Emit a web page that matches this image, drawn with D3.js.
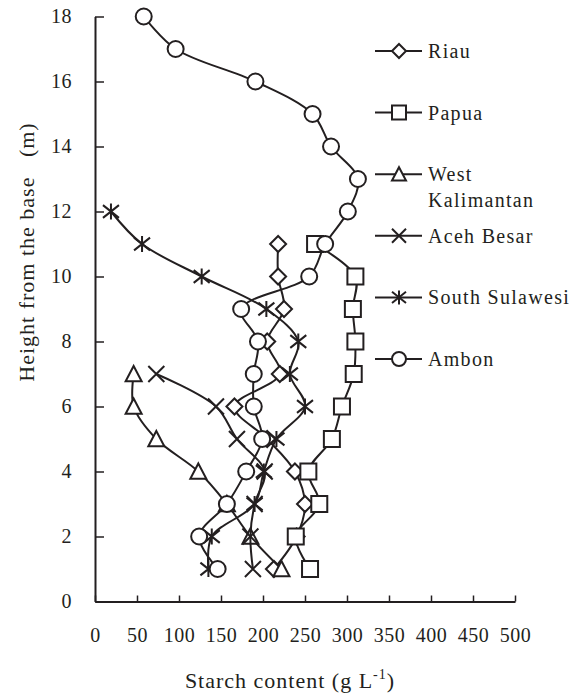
<!DOCTYPE html>
<html>
<head>
<meta charset="utf-8">
<script src="https://cdn.jsdelivr.net/npm/d3@7/dist/d3.min.js"></script>
<style>
  body { margin: 0; background: #fff; }
  text { font-family: "Liberation Serif", "Times New Roman", serif; fill: #231f20; }
</style>
</head>
<body>
<svg id="chart" width="582" height="698"></svg>
<script>
// heights in m, starch in g/L (index 0 = 1 m)
var heights = [1,2,3,4,5,6,7,8,9,10,11,12,13,14,15,16,17,18];
var riau      = [213, 240, 250, 238, 205, 166, 220, 205, 225, 218, 218];
var papua     = [256, 239, 267, 254, 282, 294, 308, 310, 307, 310, 262];
var westKal   = [222, 185, 157, 123, 73, 46, 46];
var acehBesar = [188, 185, 190, 202, 169, 144, 73];
var southSul  = [135, 139, 190, 201, 216, 250, 232, 242, 204, 127, 56, 19];
var ambon     = [146, 124, 157, 180, 199, 189, 189, 194, 174, 255, 274, 301, 313, 281, 259, 191, 96, 58];

var seriesNames  = ["Riau", "Papua", "West Kalimantan", "Aceh Besar", "South Sulawesi", "Ambon"];
var seriesValues = [riau, papua, westKal, acehBesar, southSul, ambon];
var seriesShapes = ["diamond", "square", "triangle", "cross", "star", "circle"];

var xTicks = [0,50,100,150,200,250,300,350,400,450,500];
var yTicks = [0,2,4,6,8,10,12,14,16,18];

var ink = "#231f20";
var svg = d3.select("#chart");

var x = d3.scaleLinear().domain([0, 500]).range([95, 515]);
var y = d3.scaleLinear().domain([0, 18]).range([601.5, 16.5]);

// marker outlines, s = half size
function shapePath(shape, s) {
  if (shape == "diamond") return "M0," + (-s) + "L" + s + ",0L0," + s + "L" + (-s) + ",0Z";
  if (shape == "square") return "M" + (-s) + "," + (-s) + "H" + s + "V" + s + "H" + (-s) + "Z";
  if (shape == "triangle") return "M0," + (-s) + "L" + s + "," + (s * 0.9) + "H" + (-s) + "Z";
  if (shape == "cross") return "M" + (-s) + "," + (-s) + "L" + s + "," + s + "M" + (-s) + "," + s + "L" + s + "," + (-s);
  if (shape == "star") return "M" + (-s) + "," + (-s * 0.8) + "L" + s + "," + (s * 0.8) + "M" + (-s) + "," + (s * 0.8) + "L" + s + "," + (-s * 0.8) + "M0," + (-s) + "V" + s;
  // circle
  return "M" + (-s) + ",0A" + s + "," + s + " 0 1,0 " + s + ",0A" + s + "," + s + " 0 1,0 " + (-s) + ",0Z";
}

// axes
var yAxis = svg.append("g")
  .attr("transform", "translate(95,0)")
  .call(d3.axisLeft(y).tickValues(yTicks).tickSizeInner(-9).tickSizeOuter(0).tickPadding(23));

var xAxis = svg.append("g")
  .attr("transform", "translate(0,601.5)")
  .call(d3.axisBottom(x).tickValues(xTicks).tickSizeInner(-6).tickSizeOuter(0).tickPadding(26));

[yAxis, xAxis].forEach(function(g) {
  g.attr("font-family", null).attr("font-size", null);
  g.select(".domain").attr("stroke", ink).attr("stroke-width", 2);
  g.selectAll(".tick line").attr("stroke", ink).attr("stroke-width", 1.5);
  g.selectAll(".tick text").attr("fill", ink).style("font-size", "20px").style("letter-spacing", "0.5px");
});

var line = d3.line()
  .x(function(d) { return x(d.v); })
  .y(function(d) { return y(d.h); })
  .curve(d3.curveCatmullRom.alpha(0.5));

seriesValues.forEach(function(vals, i) {
  var pts = vals.map(function(v, j) { return {h: heights[j], v: v}; });
  var g = svg.append("g");

  g.append("path")
    .datum(pts)
    .attr("fill", "none")
    .attr("stroke", ink)
    .attr("stroke-width", 2)
    .attr("d", line);

  g.selectAll(".mark")
    .data(pts).enter()
    .append("path")
    .attr("class", "mark")
    .attr("transform", function(d) { return "translate(" + x(d.v) + "," + y(d.h) + ")"; })
    .attr("d", shapePath(seriesShapes[i], 8))
    .attr("fill", "#fff")
    .attr("stroke", ink)
    .attr("stroke-width", 2);
});

// legend
var legend = svg.append("g").attr("transform", "translate(375,51)");
var rowY = 0;
seriesNames.forEach(function(name, i) {
  var row = legend.append("g").attr("transform", "translate(0," + rowY + ")");
  row.append("line")
    .attr("x1", 0).attr("x2", 47)
    .attr("stroke", ink).attr("stroke-width", 2);
  row.append("path")
    .attr("transform", "translate(24,0)")
    .attr("d", shapePath(seriesShapes[i], 7))
    .attr("fill", "#fff")
    .attr("stroke", ink)
    .attr("stroke-width", 2);

  var label = row.append("text")
    .attr("x", 53)
    .style("font-size", "20px")
    .style("letter-spacing", "1.3px");
  var parts = name == "West Kalimantan" ? ["West", "Kalimantan"] : [name];
  parts.forEach(function(p, k) {
    label.append("tspan").attr("x", 53).attr("dy", k == 0 ? "0.35em" : "1.3em").text(p);
  });
  rowY += 61.6;
});

// axis titles
svg.append("text")
  .attr("transform", "translate(34,252) rotate(-90)")
  .attr("text-anchor", "middle")
  .style("font-size", "22px")
  .style("letter-spacing", "1px")
  .style("white-space", "pre")
  .text("Height from the base   (m)");

var xTitle = svg.append("text")
  .attr("x", 290)
  .attr("y", 688)
  .attr("text-anchor", "middle")
  .style("font-size", "22px")
  .style("letter-spacing", "1px");
xTitle.append("tspan").text("Starch content (g L");
xTitle.append("tspan").attr("dy", -9).style("font-size", "14px").text("-1");
xTitle.append("tspan").attr("dy", 9).text(")");
</script>
</body>
</html>
